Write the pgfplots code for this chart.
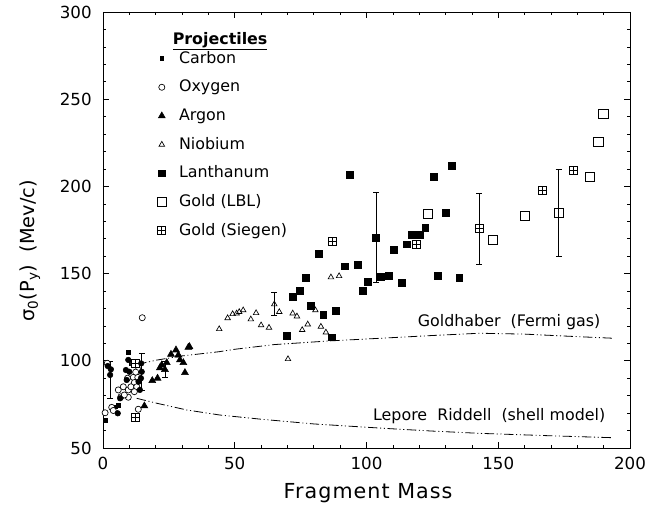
\documentclass[border=0pt]{standalone}
\usepackage{fontspec}
\setmainfont{DejaVu Sans}
\newfontfamily\labelfont[LetterSpace=5]{DejaVu Sans}
\usepackage{pgfplots}
\pgfplotsset{compat=1.18}

% square with a cross inside (Gold, Siegen)
\pgfdeclareplotmark{sqplus}{%
  \pgfpathrectangle{\pgfpoint{-\pgfplotmarksize}{-\pgfplotmarksize}}%
    {\pgfpoint{2\pgfplotmarksize}{2\pgfplotmarksize}}%
  \pgfpathmoveto{\pgfpoint{-\pgfplotmarksize}{0pt}}%
  \pgfpathlineto{\pgfpoint{\pgfplotmarksize}{0pt}}%
  \pgfpathmoveto{\pgfpoint{0pt}{-\pgfplotmarksize}}%
  \pgfpathlineto{\pgfpoint{0pt}{\pgfplotmarksize}}%
  \pgfusepathqfillstroke}

\pgfplotsset{
  eb/.style={error bars/y dir=both, error bars/y explicit,
    error bars/error bar style={line width=0.6pt, black},
    error bars/error mark options={rotate=90, mark size=2.2pt, line width=0.6pt, black}},
  theory/.style={black, line width=0.6pt, no marks,
    dash pattern=on 7pt off 2pt on 0.8pt off 2pt on 0.8pt off 2pt},
}

\begin{document}
\begin{tikzpicture}
\path[use as bounding box] (-77.25pt,-48.75pt) rectangle (414.75pt,336pt);
\begin{axis}[
  at={(0,0)}, anchor=south west,
  scale only axis, width=395.25pt, height=327pt,
  xmin=0, xmax=200, ymin=50, ymax=300,
  xtick distance=50, ytick distance=50,
  minor x tick num=4, minor y tick num=4,
  tick align=inside,
  major tick length=4.5pt, minor tick length=2pt,
  axis line style={line width=0.6pt},
  every tick/.style={black, line width=0.5pt},
  ticklabel style={font=\fontsize{12.5}{14}\selectfont},
  xticklabel style={yshift=-3pt},
  yticklabel style={xshift=-5pt},
  /pgf/number format/assume math mode=true,
  xlabel={Fragment Mass},
  ylabel={σ\textsubscript{0}(P\textsubscript{y})\ \ (Mev/c)},
  xlabel style={font=\labelfont\fontsize{15.5}{18}\selectfont,
    at={(axis description cs:0.503,-0.103)}, anchor=center},
  ylabel style={font=\fontsize{14.5}{18}\selectfont,
    at={(axis description cs:-0.1385,0.452)}, anchor=center},
  legend style={draw=none, fill=none, at={(0.1025,0.9266)}, anchor=north west,
    inner xsep=0pt, inner ysep=0pt, row sep=0pt, column sep=7.5pt,
    font=\fontsize{11.9}{14}\selectfont,
    nodes={inner xsep=2pt, inner ysep=3.25pt, text height=11pt, text depth=4pt}},
  legend cell align=left,
]

% Carbon
\addplot[only marks, mark=square*, mark size=1.4pt, black] coordinates {
  (0.8,66.0)(4.6,73.6)(5.8,74.6)(9.6,104.8)(10.6,98.5)};
\addlegendentry{Carbon}

% Oxygen
\addplot[only marks, mark=*, mark size=2.3pt,
  mark options={draw=black, fill=white, line width=0.5pt}] coordinates {
  (0.8,70.2)(3.3,73.3)(3.9,71.5)(5.8,83.3)(7.7,85.1)(6.8,79.4)(9.6,83.3)
  (9.6,79.1)(11.5,90.5)(13.2,90.5)(11.9,87.5)(10.6,85.1)(12.8,85.1)
  (8.1,80.4)(11.9,82.3)(13.4,72.2)(13.4,94.7)(9.3,90.0)(1.6,98.6)
  (14.9,124.7)(12.4,93.5)};
\addlegendentry{Oxygen}

% Argon
\addplot[only marks, mark=triangle*, mark size=3pt, black] coordinates {
  (32.8,108.1)(27.7,106.2)(25.8,103.7)(28.6,103.3)(29.2,100.5)(30.5,98.9)
  (31.1,93.2)(24.2,98.9)(22.3,97.6)(21.6,96.0)(20.7,90.0)(18.7,88.6)
  (15.7,74.1)(32.4,107.7)};
\addlegendentry{Argon}

% Niobium
\addplot[only marks, mark=triangle, mark size=2.4pt,
  mark options={draw=black, fill=white, line width=0.5pt}] coordinates {
  (44.1,118.2)(47.3,124.5)(49.2,126.8)(50.7,127.2)(51.7,128.0)(53.2,129.0)
  (56.1,123.8)(58.1,127.4)(60.0,120.4)(63.0,119.0)(66.9,128.0)(72.0,127.2)
  (73.6,125.5)(75.6,117.7)(77.7,120.9)(80.6,129.0)(82.7,119.6)(84.6,116.3)
  (86.5,147.9)(89.6,148.6)(70.2,101.0)};
\addlegendentry{Niobium}

% Lanthanum
\addplot[only marks, mark=square*, mark size=2.6pt, black] coordinates {
  (93.7,206.5)(125.4,205.6)(130.2,184.9)(122.3,176.5)(117.3,172.0)
  (120.3,172.0)(115.3,166.8)(110.4,163.5)(81.9,161.6)(91.6,154.2)
  (96.7,154.9)(76.8,147.6)(105.5,148.2)(108.4,149.0)(100.5,145.4)
  (98.6,140.4)(113.4,145.0)(127.2,148.6)(135.2,147.6)(74.8,140.0)
  (72.0,136.8)(78.8,131.6)(83.6,126.3)(88.5,128.6)(69.9,114.2)
  (86.8,113.5)(132.3,211.9)};
\addlegendentry{Lanthanum}

% Gold (LBL)
\addplot[only marks, mark=square, mark size=3.4pt,
  mark options={draw=black, fill=white, line width=0.6pt}] coordinates {
  (189.9,241.3)(188.0,225.3)(184.8,205.2)(160.0,183.2)(148.1,169.3)
  (123.2,184.0)};
\addlegendentry{Gold (LBL)}

% Gold (Siegen)
\addplot[only marks, mark=sqplus, mark size=3pt,
  mark options={draw=black, fill=white, line width=0.5pt}] coordinates {
  (12.1,98.6)(12.1,67.4)(87.2,168.3)(118.8,166.8)(166.9,197.9)(178.5,209.4)};
\addlegendentry{Gold (Siegen)}

% unlabelled filled circles in the light-fragment cluster
\addplot[forget plot, only marks, mark=*, mark size=2.1pt, black] coordinates {
  (1.8,97.0)(3.0,95.1)(5.6,69.9)(9.6,100.5)(10.0,93.7)(8.7,94.7)(9.0,89.0)
  (14.4,90.0)(6.5,78.5)(14.0,83.3)(13.5,88.0)(14.5,98.5)};

% points with error bars
\addplot[forget plot, only marks, mark=*, mark size=2.1pt, black, eb]
  coordinates {(2.7,91.9) += (0,7.6) -= (0,13.4) (14.7,93.7) +- (0,10.5)};
\addplot[forget plot, only marks, mark=triangle*, mark size=3pt, black, eb]
  coordinates {(23.5,95.0) +- (0,4.5)};
\addplot[forget plot, only marks, mark=triangle, mark size=2.4pt,
  mark options={draw=black, fill=white, line width=0.5pt}, eb]
  coordinates {(65.0,132.4) +- (0,6.6)};
\addplot[forget plot, only marks, mark=square*, mark size=2.6pt, black, eb]
  coordinates {(103.6,170.8) +- (0,26.0)};
\addplot[forget plot, only marks, mark=sqplus, mark size=3pt,
  mark options={draw=black, fill=white, line width=0.5pt}, eb]
  coordinates {(142.7,175.7) +- (0,20.5)};
\addplot[forget plot, only marks, mark=square, mark size=3.4pt,
  mark options={draw=black, fill=white, line width=0.6pt}, eb]
  coordinates {(172.9,184.9) +- (0,25.1)};

% model curves
\addplot[forget plot, theory] coordinates {
  (13,98.0)(15,98.6)(20,100.3)(30,102.8)(44,105.2)(50,106.6)(65,109.3)
  (86,111.4)(105,112.9)(125,114.5)(143,115.8)(160,115.3)(175,114.2)
  (194,112.9)};
\addplot[forget plot, theory] coordinates {
  (12.8,78.5)(20,75.8)(31.8,71.8)(44.4,68.9)(60,66.5)(80,63.8)
  (106.4,61.3)(125,59.7)(143,58.4)(170,57.0)(193.5,55.9)};

\node[anchor=base west, font=\fontsize{11.9}{14}\selectfont]
  at (axis cs:24.7,281.4) {\underline{\textbf{Projectiles}}};
\node[anchor=east, font=\fontsize{11.9}{14}\selectfont]
  at (axis cs:190.5,122.4) {Goldhaber\ \ (Fermi gas)};
\node[anchor=east, font=\fontsize{11.9}{14}\selectfont]
  at (axis cs:192.4,68.5) {Lepore\ \ Riddell\ \ (shell model)};
\end{axis}
\end{tikzpicture}
\end{document}
